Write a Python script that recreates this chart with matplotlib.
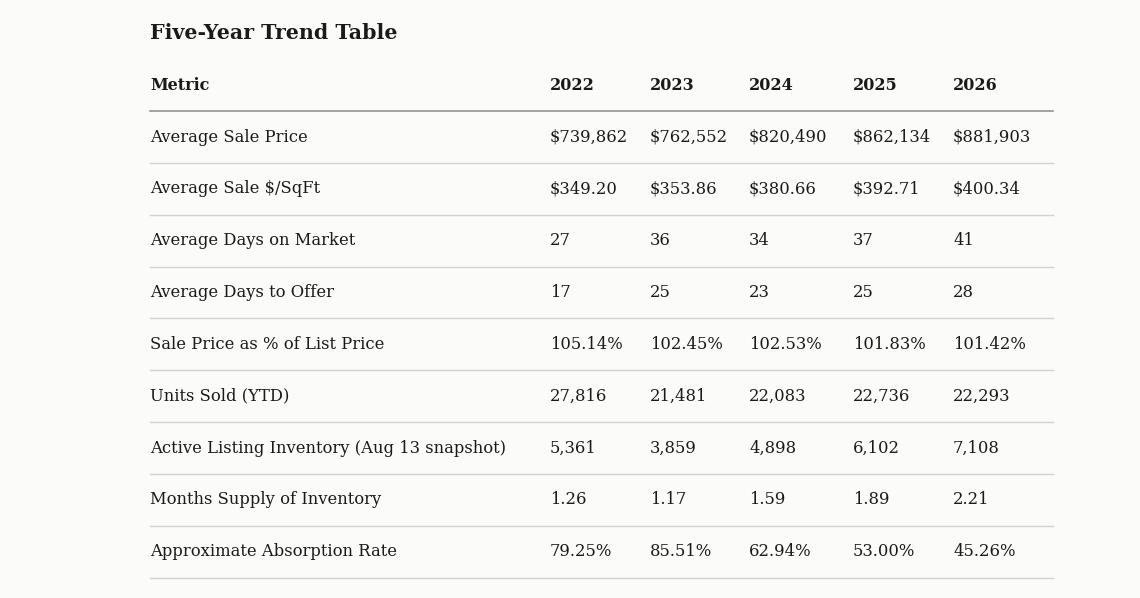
"""
Five-year trend table.
"""

import matplotlib.pyplot as plt

TITLE = "Five-Year Trend Table"

columns = ["Metric", "2022", "2023", "2024", "2025", "2026"]

metrics = [
    "Average Sale Price",
    "Average Sale $/SqFt",
    "Average Days on Market",
    "Average Days to Offer",
    "Sale Price as % of List Price",
    "Units Sold (YTD)",
    "Active Listing Inventory (Aug 13 snapshot)",
    "Months Supply of Inventory",
    "Approximate Absorption Rate",
]

values_2022 = ["$739,862", "$349.20", "27", "17", "105.14%", "27,816", "5,361", "1.26", "79.25%"]
values_2023 = ["$762,552", "$353.86", "36", "25", "102.45%", "21,481", "3,859", "1.17", "85.51%"]
values_2024 = ["$820,490", "$380.66", "34", "23", "102.53%", "22,083", "4,898", "1.59", "62.94%"]
values_2025 = ["$862,134", "$392.71", "37", "25", "101.83%", "22,736", "6,102", "1.89", "53.00%"]
values_2026 = ["$881,903", "$400.34", "41", "28", "101.42%", "22,293", "7,108", "2.21", "45.26%"]

FONT = ["DejaVu Serif"]
BG = "#fbfbfa"
INK = "#1a1a1a"


def draw_table():
    """
    Draw the table on a pixel-sized canvas.
    """

    fig = plt.figure(figsize=(11.4, 5.98), dpi=100, facecolor=BG)
    ax = fig.add_axes([0, 0, 1, 1])
    ax.set_xlim(0, 1140)
    ax.set_ylim(598, 0)
    ax.axis("off")

    col_x = [150, 550, 650, 749, 853, 953]
    left, right = 150, 1053
    header_y = 85
    first_row_y = 137
    row_h = 51.85

    ax.text(left, 33, TITLE, fontsize=14.8, fontweight="bold",
            family=FONT, color=INK, va="center", ha="left")

    for x, label in zip(col_x, columns):
        ax.text(x, header_y, label, fontsize=11.5, fontweight="bold",
                family=FONT, color=INK, va="center", ha="left")

    ax.plot([left, right], [111, 111], color="#8a8a8a", lw=1.1)

    rows = list(zip(metrics, values_2022, values_2023,
                    values_2024, values_2025, values_2026))

    for i, row in enumerate(rows):
        y = first_row_y + i * row_h
        for x, cell in zip(col_x, row):
            ax.text(x, y, cell, fontsize=11.8, family=FONT,
                    color=INK, va="center", ha="left")
        line_y = y + row_h / 2
        ax.plot([left, right], [line_y, line_y], color="#d2d2d2", lw=1.0)

    fig.savefig("out.png", dpi=100, facecolor=BG)


if __name__ == "__main__":

    draw_table()
